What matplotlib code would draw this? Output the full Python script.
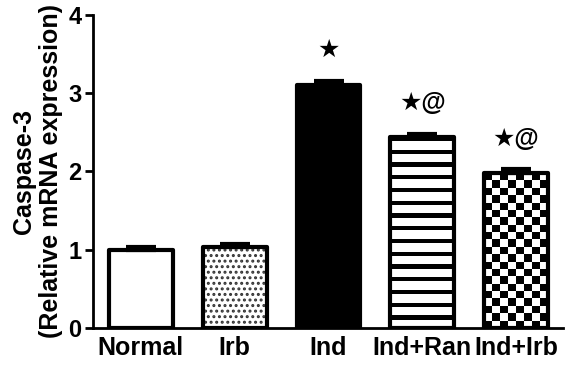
import matplotlib
matplotlib.use("Agg")
import matplotlib.pyplot as plt
import numpy as np

plt.rcParams["font.family"] = ["Liberation Sans", "DejaVu Sans"]
plt.rcParams["font.weight"] = "bold"
plt.rcParams["hatch.linewidth"] = 1.4

groups = ["Normal", "Irb", "Ind", "Ind+Ran", "Ind+Irb"]
means = [1.0, 1.03, 3.11, 2.44, 1.98]
errors = [0.04, 0.04, 0.05, 0.04, 0.05]
marks = ["", "", "\u2605", "\u2605@", "\u2605@"]


def texture(kind, value):
    # pattern fill drawn as a small image clipped to the bar
    if kind == "checker":
        ny = int(round(value * 78 / 7.3))
        i, j = np.indices((ny, 8))
        return (i + j) % 2
    n = int(round(value * 78 / 12.7))
    return np.tile([[0], [1], [1]], (n, 1))


fig, ax = plt.subplots(figsize=(5.66, 3.66), dpi=100)
fig.subplots_adjust(left=0.164, right=0.995, bottom=0.104, top=0.959)

x = np.arange(len(groups))
width = 0.68
fills = ["white", "white", "black", "white", "white"]
hatches = [None, "...", None, None, None]
textures = [None, None, None, "stripes", "checker"]

for xi, v, fc, h, tex in zip(x, means, fills, hatches, textures):
    ax.bar(xi, v, width, color=fc, hatch=h, edgecolor="#333333", linewidth=0, zorder=2)
    edge = ax.bar(xi, v, width, facecolor="none", edgecolor="black", linewidth=3,
                  joinstyle="round", zorder=4)[0]
    if tex is not None:
        img = ax.imshow(texture(tex, v), cmap="gray", vmin=0, vmax=1, interpolation="nearest",
                        extent=(xi - width / 2, xi + width / 2, 0, v), aspect="auto", zorder=3)
        img.set_clip_path(edge)

ax.errorbar(x, means, yerr=[np.zeros(len(x)), errors], fmt="none", ecolor="black",
            elinewidth=3, capsize=11, capthick=3, zorder=5)

for xi, v, e, m in zip(x, means, errors, marks):
    if m:
        ax.annotate(m, (xi, v + e), xytext=(0, 22), textcoords="offset points",
                    ha="center", va="center", fontsize=18, fontweight="bold")

ax.set_xlim(-0.512, 4.5)
ax.set_ylim(0, 4)
ax.set_yticks([0, 1, 2, 3, 4])
ax.set_xticks(x)
ax.set_xticklabels(groups, fontsize=18, fontweight="bold")
ax.tick_params(axis="x", length=0, pad=6)
ax.tick_params(axis="y", length=6, width=2, labelsize=17, pad=2)
ax.set_ylabel("Caspase-3\n(Relative mRNA expression)", fontsize=18, fontweight="bold",
              labelpad=4, linespacing=1.15)

for s in ["top", "right"]:
    ax.spines[s].set_visible(False)
for s in ["left", "bottom"]:
    ax.spines[s].set_linewidth(2)

fig.savefig("out.png", dpi=100)
